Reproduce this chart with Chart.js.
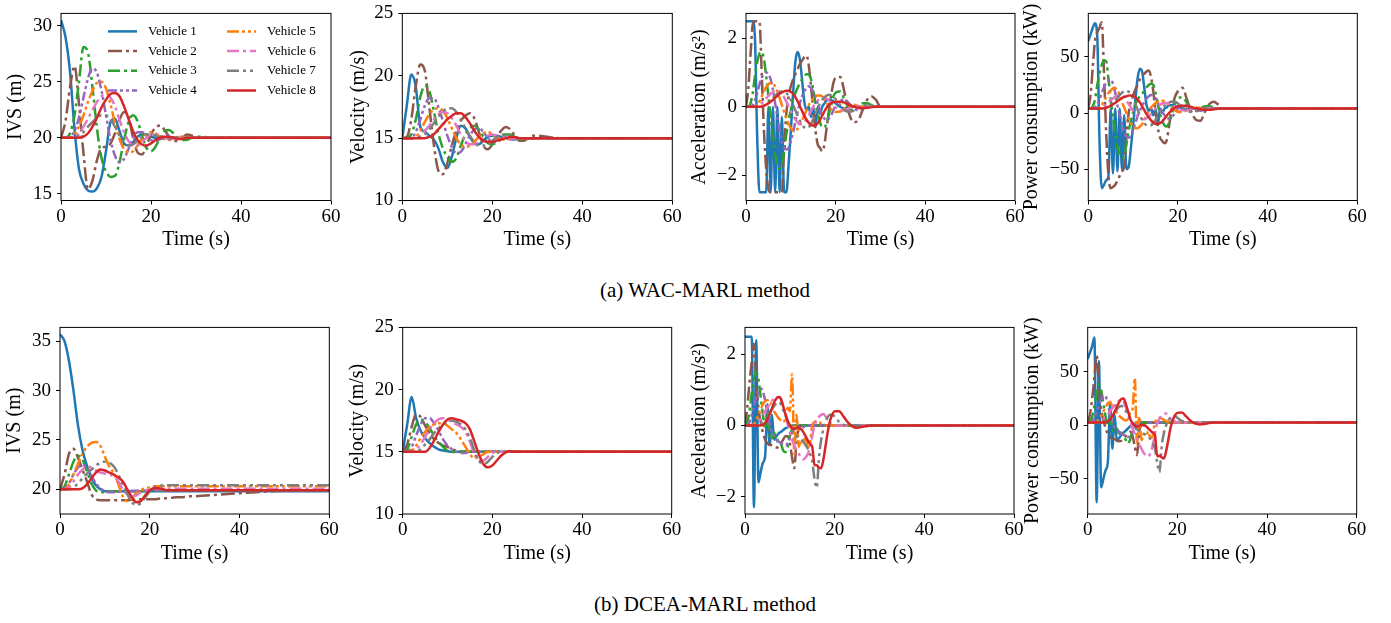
<!DOCTYPE html>
<html><head><meta charset="utf-8">
<script src="https://cdn.jsdelivr.net/npm/chart.js@4.4.1/dist/chart.umd.min.js"></script>
<style>
html,body{margin:0;padding:0;background:#fff;}
body{width:1391px;height:623px;position:relative;overflow:hidden;}
canvas{position:absolute;}
.cap{position:absolute;left:405px;width:600px;text-align:center;font-family:"Liberation Serif",serif;font-size:21px;color:#000;line-height:24px;}
</style></head><body>
<div class="cap" style="top:278px">(a) WAC-MARL method</div>
<div class="cap" style="top:592px">(b) DCEA-MARL method</div>
<script>
// ---------- time axes ----------
const T_A = [0,1,2,3,4,5,6,7,8,9,10,11,12,13,14,15,16,17,18,19,20,21,22,23,24,25,26,27,28,29,30,35,40,45,50,55,60];
const T_B = [0,0.5,1,1.5,2,2.5,3,3.5,4,4.5,5,5.5,6,6.5,7,7.5,8,8.5,9,9.5,10,10.5,11,11.5,12,12.5,13,13.5,14,14.5,15,15.5,16,16.5,17,17.5,18,18.5,19,19.5,20,21,22,23,24,25,26,27,28,29,30,40,50,60];
const X_TICKS = [0,20,40,60];
const VEHICLES = ['Vehicle 1','Vehicle 2','Vehicle 3','Vehicle 4','Vehicle 5','Vehicle 6','Vehicle 7','Vehicle 8'];

// ---------- (a) WAC-MARL ----------
const WAC_IVS = [
 [30.5,29.0,25.9,20.8,17.2,15.9,15.3,15.2,15.5,16.5,18.8,21.4,21.7,20.6,19.5,19.3,19.6,20.1,20.3,20.3,20.1,20.0,19.9,20,20,20,20,20,20,20,20,20,20,20,20,20,20],
 [20,21.5,24.5,26.4,23.0,18.6,15.4,16.2,18.0,19.1,19.2,19.5,20.4,21.6,22.3,21.9,20.0,18.7,18.5,19.3,20.3,20.9,21.1,20.7,20.1,19.7,19.7,20.0,20.3,20.2,20.0,20,20,20,20,20,20],
 [20,20,20.4,22,25,28.1,27.6,24.5,20.8,18.2,17,16.5,16.6,17.8,19.8,21.4,22,21.5,20.2,19.1,18.8,19.2,20,20.6,20.7,20.4,20,19.8,19.8,20,20.1,20,20,20,20,20,20],
 [20,20,20.1,20.6,21.8,23.6,25.3,26.2,25.8,24.2,22,19.8,18.4,17.8,18.1,19,20,20.5,20.5,20.2,19.8,19.7,19.9,20.2,20.2,20,19.9,20,20,20,20,20,20,20,20,20,20],
 [20,20,20,20.3,21,22,23.2,24.2,24.9,25,24.4,23,21.3,19.9,19,18.7,18.8,19.3,19.9,20.3,20.5,20.4,20.1,19.9,19.8,19.9,20.1,20.1,20,20,20,20,20,20,20,20,20],
 [20,20,20,20.1,20.4,21,21.7,22.5,23.2,23.7,23.9,23.6,22.8,21.6,20.5,19.7,19.3,19.3,19.6,20,20.3,20.3,20.2,20,19.9,19.9,20,20,20,20,20,20,20,20,20,20,20],
 [20,20,20,20,20.2,20.5,21,21.4,21.8,22,22,21.6,21,20.2,19.6,19.3,19.4,19.7,20.1,20.3,20.3,20.2,20,19.9,19.9,20,20,20,20,20,20,20,20,20,20,20,20],
 [20,20,20,20,20,20.1,20.4,21,21.8,22.7,23.4,23.9,24,23.7,22.8,21.7,20.6,19.8,19.4,19.3,19.5,19.8,20,20.1,20.1,20,19.9,19.9,20,20,20,20,20,20,20,20,20]
];
const WAC_VEL = [
 [15,17.6,20.1,19.1,15.9,15.5,15.2,14.9,14.2,13.1,12.6,13.5,15.0,16.0,15.8,15.1,14.6,14.5,14.8,15.1,15.2,15.2,15.1,15,14.9,14.9,15,15,15,15,15,15,15,15,15,15,15],
 [15,15.1,16.5,19.2,20.9,20.4,17.5,14.5,12.4,12.1,13,14.4,15.6,16.4,16.8,17,16.6,15.5,14.4,14.1,14.5,15.1,15.6,15.9,15.7,15.2,14.8,14.8,15,15.2,15.2,15,15,15,15,15,15],
 [15,15,15.3,16.5,18.3,19.2,18.8,17.2,15.4,14.2,13.5,13.1,13.4,14.4,15.3,15.8,16,15.7,15.1,14.6,14.5,14.7,15.1,15.3,15.3,15.1,14.9,14.9,15,15,15,15,15,15,15,15,15],
 [15,15,15,15.5,16.5,17.6,18.2,18.2,17.5,16.4,15.2,14.3,13.8,13.9,14.5,15.2,15.7,15.8,15.5,15,14.7,14.7,14.9,15.1,15.1,15,15,15,15,15,15,15,15,15,15,15,15],
 [15,15,15,15.1,15.6,16.3,16.9,17.3,17.4,17.2,16.6,15.8,15,14.5,14.3,14.4,14.7,15.1,15.4,15.5,15.3,15.1,14.9,14.9,15,15,15,15,15,15,15,15,15,15,15,15,15],
 [15,15,15,15,15.2,15.6,16,16.5,16.9,17.1,17,16.6,16,15.3,14.8,14.5,14.5,14.7,15,15.2,15.3,15.2,15.1,15,14.9,15,15,15,15,15,15,15,15,15,15,15,15],
 [15,15,15,15,15.1,15.3,15.7,16.2,16.7,17.1,17.4,17.4,17.1,16.5,15.8,15.2,14.7,14.4,14.4,14.5,14.8,15.1,15.3,15.3,15.2,15,15,15,15,15,15,15,15,15,15,15,15],
 [15,15,15,15,15,15,15.1,15.3,15.7,16.1,16.5,16.8,17,17,16.7,16.2,15.6,15.1,14.8,14.7,14.7,14.8,14.9,15,15.1,15.1,15,15,15,15,15,15,15,15,15,15,15]
];
const WAC_ACC = [
 [2.5,2.5,2.5,2.5,2.0,-0.9,-2.5,-2.5,-2.5,-2.5,0,-2.5,0,-2.5,0,-2.5,-0.3,-2.5,-2.5,-1.7,-0.7,0.4,1.3,1.6,1.4,0.8,0.15,-0.1,0,-0.3,0,-0.6,0,-0.2,0,0.1,0.2,0.2,0.2,0.15,0.1, 0,-0.05,0,0,0,0,0,0,0,0, 0,0,0],
 [0,0.5,1.5,2.4,2.5,2.5,2.5,1.0,-0.7,-1.8,-2.4,-2.5,-2.5,-2.5,-2.5,-2.5,-2.5,-1.2,-0.2,0.3,0.6,0.8,0.95,1.1,1.25,1.35,1.45,1.5,1.2,0.6,-0.1,-0.7,-1.1,-1.2,-1.3,-1.1,-0.6,-0.1,0.35,0.7,0.85, 0.87,0.4,-0.2,-0.45,-0.4,-0.1,0.2,0.3,0.2,0, 0,0,0],
 [0,0,0.1,0.4,0.9,1.3,1.55,1.6,1.4,0.9,0.3,-0.3,-0.9,-1.4,-1.7,-1.8,-1.7,-1.3,-0.8,-0.4,-0.1,0.2,0.4,0.55,0.7,0.8,0.9,0.95,0.95,0.8,0.5,0.1,-0.2,-0.45,-0.6,-0.6,-0.45,-0.2,0.05,0.3,0.42, 0.45,0.2,-0.05,-0.1,0,0.1,0.1,0.05,0,0, 0,0,0],
 [0,0,0,0.05,0.2,0.4,0.65,0.85,0.95,1.0,0.95,0.8,0.5,0.1,-0.3,-0.7,-1.0,-1.2,-1.25,-1.2,-1.0,-0.75,-0.45,-0.15,0.1,0.3,0.45,0.55,0.6,0.55,0.45,0.3,0.1,-0.1,-0.25,-0.35,-0.4,-0.35,-0.25,-0.1,0.05, 0.2,0.2,0.1,-0.05,-0.1,-0.05,0,0,0,0, 0,0,0],
 [0,0,0,0,0,0.05,0.15,0.3,0.45,0.58,0.66,0.7,0.68,0.6,0.45,0.25,0.05,-0.15,-0.35,-0.5,-0.62,-0.7,-0.7,-0.65,-0.55,-0.4,-0.25,-0.1,0.05,0.15,0.25,0.3,0.33,0.33,0.3,0.22,0.12,0.02,-0.07,-0.12,-0.15, -0.14,-0.05,0.03,0.06,0.04,0,0,0,0,0, 0,0,0],
 [0,0,0,0,0,0,0.05,0.1,0.17,0.25,0.32,0.38,0.43,0.46,0.47,0.45,0.38,0.28,0.15,0.02,-0.12,-0.25,-0.37,-0.46,-0.51,-0.5,-0.45,-0.36,-0.25,-0.12,0,0.1,0.18,0.24,0.27,0.27,0.24,0.18,0.11,0.04,-0.02, -0.1,-0.1,-0.05,0,0.03,0.02,0,0,0,0, 0,0,0],
 [0,0,0,0,0,0,0,0,0.03,0.07,0.12,0.18,0.25,0.32,0.38,0.42,0.45,0.44,0.4,0.32,0.2,0.06,-0.1,-0.26,-0.4,-0.52,-0.6,-0.63,-0.6,-0.5,-0.36,-0.2,-0.05,0.1,0.2,0.28,0.33,0.35,0.34,0.3,0.22, 0.05,-0.1,-0.15,-0.12,-0.05,0.02,0.05,0.03,0,0, 0,0,0],
 [0,0,0,0,0,0,0,0.01,0.03,0.06,0.1,0.15,0.2,0.26,0.32,0.38,0.42,0.45,0.47,0.47,0.44,0.38,0.28,0.16,0.02,-0.12,-0.26,-0.38,-0.47,-0.53,-0.55,-0.54,-0.48,-0.38,-0.26,-0.13,-0.02,0.06,0.11,0.14,0.15, 0.15,0.12,0.06,0.01,-0.03,-0.04,-0.03,-0.01,0,0, 0,0,0]
];
const WAC_PWR = [
 [64,70,76,80,68,-25,-67,-64,-60,-56,4,-54,4,-52,4,-50,-2,-50,-48,-31,-11,12,31,39.5,37,22,7,2,4,-2,4,-11,4,0,4,5,7,7,7,6,5.5, 4,3.5,4,4,4,4,4,4,4,4, 4,4,4],
 [4,16,41,65,72,76,81,36,-19,-56,-67,-66,-64,-60,-56,-52,-48,-21,0,10,16,21,25,30,33,35,37,38,32,19,1,-13,-22,-25,-27,-24,-12,2,10,16,19.5, 22.6,12,1,-6,-7,1,8,10,7.5,4, 4,4,4],
 [4,4,6,12,25,35,43,47,46,30,12,-4,-18,-30,-37,-40,-38,-28,-16,-7,1,8,12,15,17,20,23,25,26,25,18,8,-1,-7,-11,-12,-9,-3,5,10,13, 14,9,3,2,4,6,6,5,4,4, 4,4,4],
 [4,4,4,5,8,12,18,23,27,29,30,26,18,7,-2,-10,-17,-21,-22,-20,-15,-9,-3,2,6,10,13,15,16,15,13,9,5,1,-2,-4,-5,-4,-2,1,4, 7,7,5,3,2,3,4,4,4,4, 4,4,4],
 [4,4,4,4,4,5,7,11,14,18,20,22,22,20,16,10,5,0,-5,-9,-12,-13.5,-13.5,-12,-10,-6,-2,2,5,7,9,10,11,11,10.5,9,7,5,3,2,1, 1,2.5,4.5,5,4.5,4,4,4,4,4, 4,4,4],
 [4,4,4,4,4,4,5,6,8,10,11.5,13,14.5,15.5,16,15.5,14,11,8,5,1.5,-1,-3,-4.5,-5.5,-5.5,-4.5,-3,-1,1,4,6,7.5,8.5,9,9,8.5,7.5,6.5,5,4, 2.5,2.5,3,4,4,4,4,4,4,4, 4,4,4],
 [4,4,4,4,4,4,4,4,5,6,7.5,9,11,13.5,16,18,19.5,20,19,17,13,8,3,-2,-6,-9,-11,-11.5,-11,-9,-6,-3,1,4,6.5,8.5,9.5,10,10,9.5,8.5, 5,2,1,1.5,3,4.5,5,4.5,4,4, 4,4,4],
 [4,4,4,4,4,4,4,4.2,4.7,5.5,6.5,7.8,9,10.5,12,13.3,14.3,15,15.5,15.6,15.2,14,12,9.5,6,2.5,-1,-4,-6.5,-8.5,-9.6,-9.8,-9,-7.5,-5,-2.5,0,2,3.8,5,5.8, 6.5,6.3,5.3,4.2,3.3,2.8,2.9,3.3,3.8,4, 4,4,4]
];

// ---------- (b) DCEA-MARL ----------
const DCEA_IVS = [
 [35.7,35,33,30,26.5,24,22.4,21.2,20.4,20,19.8,19.8,19.8,19.8,19.8,19.8,19.8,19.8,19.8,19.8,19.8,19.8,19.8,19.8,19.8,19.8,19.8,19.8,19.8,19.8,19.8,19.8,19.8,19.8,19.8,19.8,19.8],
 [20,21.5,23.6,24.1,23.2,22.0,20.8,19.5,19,18.9,18.9,18.9,18.9,18.9,18.9,18.9,18.95,18.95,19,19,19,19.0,19.05,19.1,19.1,19.15,19.2,19.2,19.25,19.3,19.3,19.45,19.6,19.75,19.85,19.9,19.9],
 [20,20.3,21.5,22.8,23.4,23,21.8,20.6,19.9,19.7,19.7,19.8,19.8,19.8,19.8,19.8,19.8,19.8,19.8,19.8,19.85,19.85,19.85,19.85,19.85,19.85,19.85,19.85,19.85,19.85,19.85,19.85,19.85,19.85,19.85,19.85,19.85],
 [20,20.1,20.6,21.5,22.2,22.5,22.2,21.4,20.6,20.1,19.8,19.7,19.7,19.75,19.8,19.8,19.85,19.85,19.9,19.9,19.9,19.9,19.9,19.9,19.9,19.9,19.9,19.9,19.9,19.9,19.9,19.9,19.9,19.9,19.9,19.9,19.9],
 [20,20,20.5,21.5,22.6,23.6,24.3,24.7,24.8,24.4,23.3,22.3,21.6,20.5,19.3,18.8,19.1,19.6,19.9,20.1,20.2,20.3,20.3,20.3,20.3,20.3,20.3,20.3,20.3,20.3,20.3,20.3,20.3,20.3,20.3,20.3,20.3],
 [20,20,20.2,20.8,21.5,22,22.3,22.2,21.9,21.7,21.6,21.5,21.3,20.8,20,19.5,19.3,19.4,19.7,19.9,20,20.05,20.05,20.05,20.05,20.05,20.05,20.05,20.05,20.05,20.05,20.05,20.05,20.05,20.05,20.05,20.05],
 [20,20,20,20.2,20.6,21.1,21.6,22,22.4,22.7,22.8,22.7,22.3,21.5,20.5,19.5,18.7,18.4,18.6,19.2,19.8,20.2,20.35,20.4,20.4,20.4,20.4,20.4,20.4,20.4,20.4,20.4,20.4,20.4,20.4,20.4,20.4],
 [20,20,20,20,20,20.1,20.5,21.1,21.7,22,21.9,21.7,21.5,21.2,20.8,20,19.2,18.7,18.8,19.4,19.9,20.1,20.1,20,19.9,19.9,19.9,19.9,19.9,19.9,19.9,19.9,19.9,19.9,19.9,19.9,19.9]
];
const DCEA_VEL = [
 [15,17.2,19.4,17.7,16.7,16.1,15.7,15.4,15.2,15.1,15.05,15,15,15,15,15,15,15,15,15,15,15,15,15,15,15,15,15,15,15,15,15,15,15,15,15,15],
 [15,15.6,17,18,17.8,17.1,16.5,16,15.7,15.5,15.4,15.2,15.1,15,15,15,15,15,15,15,15,15,15,15,15,15,15,15,15,15,15,15,15,15,15,15,15],
 [15,15.2,16.2,17.2,17.6,17.4,16.9,16.3,15.8,15.4,15.1,15,14.95,15,15,15,15,15,15,15,15,15,15,15,15,15,15,15,15,15,15,15,15,15,15,15,15],
 [15,15,15.4,16.3,17.2,17.7,17.7,17.3,16.7,16,15.5,15.2,15,14.9,14.9,15,15,15,15,15,15,15,15,15,15,15,15,15,15,15,15,15,15,15,15,15,15],
 [15,15,15.1,15.5,16.1,16.6,17,17.2,17.3,17.3,17.1,16.8,16.5,16,15.4,14.8,14.5,14.6,14.8,15,15,15,15,15,15,15,15,15,15,15,15,15,15,15,15,15,15],
 [15,15,15,15.2,15.6,16.2,16.8,17.3,17.6,17.7,17.6,17.4,17.2,17,16.6,15.8,14.8,14.3,14.3,14.6,14.9,15,15,15,15,15,15,15,15,15,15,15,15,15,15,15,15],
 [15,15,15,15,15.2,15.6,16,16.5,16.9,17.2,17.4,17.5,17.4,17.2,16.8,16.1,15.1,14.3,14,14.2,14.6,14.9,15,15,15,15,15,15,15,15,15,15,15,15,15,15,15],
 [15,15,15,15,15,15,15.3,15.9,16.6,17.2,17.6,17.7,17.6,17.5,17.3,16.8,15.8,14.8,14,13.75,13.9,14.3,14.7,14.95,15.05,15,15,15,15,15,15,15,15,15,15,15,15]
];
const DCEA_ACC = [
 [2.5,2.5,2.5,2.5,-2.3,2.4,-1.6,-1.3,-1.05,-0.85,0.6,-0.55,0.3,-0.4,-0.3,-0.22,-0.18,-0.13,-0.08,-0.05,-0.02,0,0,0,0,0,0,0,0,0,0,0,0,0,0,0,0,0,0,0,0, 0,0,0,0,0,0,0,0,0,0, 0,0,0],
 [0,0.5,1.2,1.8,2.3,1.2,0.5,0.1,-0.2,-0.4,-0.5,-0.55,-0.55,-0.6,-0.62,-0.6,-0.5,-0.4,-0.3,-0.3,-0.5,-0.9,-1.2,-0.4,-0.1,0,0,0,0,0,0,0,0,0,0,0,0,0,0,0,0, 0,0,0,0,0,0,0,0,0,0, 0,0,0],
 [0,0.1,0.4,0.9,1.3,1.5,1.3,0.8,0.3,-0.1,0.4,-0.3,-0.4,-0.2,-0.45,-0.4,-0.5,-0.7,-0.75,-0.6,-0.3,-0.1,0,0,0,0,0,0,0,0,0,0,0,0,0,0,0,0,0,0,0, 0,0,0,0,0,0,0,0,0,0, 0,0,0],
 [0,0,0.1,0.3,0.55,0.8,0.95,1.05,0.95,0.7,0.35,0.05,-0.2,-0.3,-0.4,-0.45,-0.5,-0.52,-0.55,-0.5,-0.35,-0.2,-0.1,0,-0.05,-0.1,-0.05,0,0,0,0,0,0,0,0,0,0,0,0,0,0, 0,0,0,0,0,0,0,0,0,0, 0,0,0],
 [0,0,0,0,0.05,0.15,0.3,0.45,0.6,0.68,0.72,0.6,0.65,0.4,0.3,0.2,0.15,0.1,0.2,0.5,0.4,1.45,-0.8,0.3,-0.6,-0.4,-0.5,-0.3,-0.6,-0.5,0,0.1,0.12,0.1,0.05,0.02,0,0,0,0,0, 0,0,0,0,0,0,0,0,0,0, 0,0,0],
 [0,0,0,0,0,0.05,0.1,0.2,0.3,0.4,0.5,0.6,0.7,0.75,0.78,0.8,0.75,0.55,0.3,0.05,-0.2,-0.4,-0.55,-0.7,-0.8,-0.9,-0.95,-0.9,-0.8,-0.6,-0.3,0,0.15,0.25,0.3,0.32,0.25,0.15,0.08,0.03,0, 0,0,0,0,0,0,0,0,0,0, 0,0,0],
 [0,0,0,0,0,0,0,0.05,0.1,0.15,0.25,0.35,0.45,0.55,0.62,0.66,0.6,0.45,0.3,0.15,0,-0.15,-0.25,-0.3,-0.35,-0.4,-0.45,-0.55,-0.65,-0.8,-1.0,-1.5,-1.75,-0.9,-0.4,-0.1,0.1,0.25,0.3,0.3,0.25, 0.1,0.02,0,0,0,0,0,0,0,0, 0,0,0],
 [0,0,0,0,0,0,0,0,0.02,0.08,0.18,0.32,0.48,0.65,0.76,0.8,0.75,0.55,0.32,0.12,0,-0.08,-0.1,-0.07,-0.06,-0.1,-0.18,-0.3,-0.42,-0.52,-0.6,-1.1,-1.12,-1.18,-1.2,-0.95,-0.55,-0.15,0.15,0.32,0.4, 0.4,0.25,0.08,-0.03,-0.06,-0.04,-0.02,0,0,0, 0,0,0]
];
const DCEA_PWR = [
 [62,68,74,82,-72,60,-58,-50,-42,-34,20,-22,10,-15,-12,-9,-7,-5,-3,-1,0.5,1.5,2,2.3,2.5,2.5,2.5,2.5,2.5,2.5,2.5,2.5,2.5,2.5,2.5,2.5,2.5,2.5,2.5,2.5,2.5, 2.5,2.5,2.5,2.5,2.5,2.5,2.5,2.5,2.5,2.5, 2.5,2.5,2.5],
 [2.5,10,25,45,65,35,15,5,-3,-8,-11,-12.5,-13,-14,-15,-14.5,-12,-10,-7,-6,-10,-20,-28,-6,0,2.5,2.5,2.5,2.5,2.5,2.5,2.5,2.5,2.5,2.5,2.5,2.5,2.5,2.5,2.5,2.5, 2.5,2.5,2.5,2.5,2.5,2.5,2.5,2.5,2.5,2.5, 2.5,2.5,2.5],
 [2.5,4,8,18,30,38,33,20,8,0,10,-4,-6,-3,-8,-7,-9,-14,-17,-13,-5,-1,2,2.5,2.5,2.5,2.5,2.5,2.5,2.5,2.5,2.5,2.5,2.5,2.5,2.5,2.5,2.5,2.5,2.5,2.5, 2.5,2.5,2.5,2.5,2.5,2.5,2.5,2.5,2.5,2.5, 2.5,2.5,2.5],
 [2.5,2.5,4,7,12,18,24,28,27,20,11,3,-2,-4,-6,-8,-9,-10,-11,-10,-7,-3,-0.5,2.5,1,-0.5,1,2.5,2.5,2.5,2.5,2.5,2.5,2.5,2.5,2.5,2.5,2.5,2.5,2.5,2.5, 2.5,2.5,2.5,2.5,2.5,2.5,2.5,2.5,2.5,2.5, 2.5,2.5,2.5],
 [2.5,2.5,2.5,2.5,3.5,6,9,13,17,20,22,18,20,12,9,7,5.5,4.5,6,12,15,44,-18,8,-14,-8,-10,-6,-12,-10,3,5,7,6.5,5,4,3,2.5,2.5,2.5,2.5, 2.5,2.5,2.5,2.5,2.5,2.5,2.5,2.5,2.5,2.5, 2.5,2.5,2.5],
 [2.5,2.5,2.5,2.5,2.5,3.5,4.5,6,8,10,13,16,19,21,23,24,22,17,10,3,-3,-8,-13,-18,-22,-26,-28,-29,-26,-19,-8,2,6,9,10.5,11,9,6,4.5,3.5,2.5, 2.5,2.5,2.5,2.5,2.5,2.5,2.5,2.5,2.5,2.5, 2.5,2.5,2.5],
 [2.5,2.5,2.5,2.5,2.5,2.5,2.5,3.5,5,6,8,10,12.5,15,17,18,17,13.5,9.5,6,2.5,-1,-4,-5.5,-7,-8,-9,-11,-13,-17,-22,-35,-44,-20,-7,0,4.5,7.5,8.5,8.5,7, 4,2.8,2.5,2.5,2.5,2.5,2.5,2.5,2.5,2.5, 2.5,2.5,2.5],
 [2.5,2.5,2.5,2.5,2.5,2.5,2.5,2.5,2.8,3.8,5.5,8.5,12.5,17,21.5,24.5,25,20,13,6,2,0,-1.5,-0.5,0.5,0.5,-1,-3,-5,-7,-9,-29,-28.5,-30,-31,-24,-13,-2,5,9.5,11.5, 12,8,4,1.5,0.8,1.2,2,2.5,2.5,2.5, 2.5,2.5,2.5]
];

// ---------- tick labels ----------
const IVS_TICKS_A = [15,20,25,30];
const IVS_TICKS_B = [20,25,30,35];
const VEL_TICKS = [10,15,20,25];
const ACC_TICKS = [-2,0,2];
const PWR_TICKS = [-50,0,50];

// ---------- styles ----------
const FONT = '"Liberation Serif", "Times New Roman", serif';
const COLORS = ['#1f77b4','#8c564b','#2ca02c','#9467bd','#ff7f0e','#e377c2','#7f7f7f','#d62728'];
const DASHES = [[],[14,4,3,4],[12,4,3,4],[9,3,3,3,3,3],[12,3,3,3,3,3],[12,4,3,4],[12,4,3,4,3,4],[]];
const LINE_W = 2.5;

const PANELS = [
  {data:WAC_IVS, t:T_A, yMin:14.4, yMax:31.1, ticks:IVS_TICKS_A, title:'IVS (m)', plot:[61,11,331,200.5], titleX:16.7, legend:true},
  {data:WAC_VEL, t:T_A, yMin:10, yMax:25, ticks:VEL_TICKS, title:'Velocity (m/s)', plot:[402.3,11,672.3,200.5], titleX:359},
  {data:WAC_ACC, t:T_B, yMin:-2.74, yMax:2.73, ticks:ACC_TICKS, title:'Acceleration (m/s\u00B2)', plot:[746,11,1015,200.5], titleX:700.8},
  {data:WAC_PWR, t:T_B, yMin:-78, yMax:88.8, ticks:PWR_TICKS, title:'Power consumption (kW)', plot:[1088.3,11,1357.3,200.5], titleX:1032.7},
  {data:DCEA_IVS, t:T_A, yMin:17.5, yMax:36.4, ticks:IVS_TICKS_B, title:'IVS (m)', plot:[60,325,329.3,514], titleX:15.8},
  {data:DCEA_VEL, t:T_A, yMin:10, yMax:25, ticks:VEL_TICKS, title:'Velocity (m/s)', plot:[402.7,325,671.7,514], titleX:358.3},
  {data:DCEA_ACC, t:T_B, yMin:-2.49, yMax:2.76, ticks:ACC_TICKS, title:'Acceleration (m/s\u00B2)', plot:[745,325,1014,514], titleX:700.5},
  {data:DCEA_PWR, t:T_B, yMin:-83, yMax:91.5, ticks:PWR_TICKS, title:'Power consumption (kW)', plot:[1087.7,325,1356.7,514], titleX:1033}
];

const fmt = v => (v < 0 ? '\u2212' : '') + Math.abs(v);

const framePlugin = {
  id:'frame',
  afterDraw(chart){
    const {ctx, chartArea:a} = chart;
    ctx.save(); ctx.strokeStyle = '#000'; ctx.lineWidth = 1;
    ctx.strokeRect(a.left, a.top, a.right - a.left, a.bottom - a.top);
    ctx.restore();
  }
};
const legendPlugin = {
  id:'vleg',
  afterDraw(chart){
    const {ctx, chartArea:a} = chart;
    ctx.save();
    ctx.font = '13px ' + FONT; ctx.fillStyle = '#000';
    ctx.textBaseline = 'middle'; ctx.textAlign = 'left';
    chart.data.datasets.forEach((ds, i) => {
      const col = Math.floor(i / 4), row = i % 4;
      const x0 = a.left + (col ? 166 : 47), y = a.top + 18 + row * 19.7;
      ctx.strokeStyle = ds.borderColor; ctx.lineWidth = ds.borderWidth;
      ctx.setLineDash(ds.borderDash); ctx.beginPath();
      ctx.moveTo(x0, y); ctx.lineTo(x0 + 29, y); ctx.stroke();
      ctx.setLineDash([]);
      ctx.fillText(ds.label, x0 + 40, y);
    });
    ctx.restore();
  }
};

PANELS.forEach((p, k) => {
  const [L, T, R, B] = p.plot;
  const left = Math.floor(p.titleX - 12);
  const top = T - 14;
  const right = Math.ceil(R + 16);
  const bottom = Math.ceil(B + (k < 4 ? 51 : 52));
  const Lw = L - left, Tp = T - top, Rp = right - R, Bh = bottom - B;
  const cv = document.createElement('canvas');
  cv.width = right - left; cv.height = bottom - top;
  cv.style.left = left + 'px'; cv.style.top = top + 'px';
  cv.style.width = (right - left) + 'px'; cv.style.height = (bottom - top) + 'px';
  document.body.appendChild(cv);
  const gridOpt = {display:true, drawOnChartArea:false, drawTicks:true, tickLength:4, tickColor:'#000', tickWidth:1, color:'#000'};
  new Chart(cv, {
    type:'line',
    data:{
      datasets: p.data.map((ys, i) => ({
        label: VEHICLES[i],
        data: p.t.map((x, j) => ({x:x, y:ys[j]})),
        borderColor: COLORS[i], backgroundColor: COLORS[i],
        borderDash: DASHES[i], borderWidth: LINE_W, borderCapStyle:'butt',
        pointRadius:0, fill:false, cubicInterpolationMode:'monotone',
        order: 7 - i
      }))
    },
    options:{
      responsive:false, animation:false, events:[],
      layout:{padding:{top:Tp, right:Rp, left:0, bottom:0}},
      plugins:{legend:{display:false}, tooltip:{enabled:false}},
      scales:{
        x:{type:'linear', min:0, max:60,
           afterBuildTicks: s => { s.ticks = X_TICKS.map(v => ({value:v})); },
           afterFit: s => { s.height = Bh; },
           grid:gridOpt, border:{display:false},
           ticks:{color:'#000', font:{family:FONT, size:19}, padding:1, maxRotation:0, autoSkip:false, callback:fmt},
           title:{display:true, text:'Time (s)', color:'#000', font:{family:FONT, size:20}, padding:0}},
        y:{type:'linear', min:p.yMin, max:p.yMax,
           afterBuildTicks: s => { s.ticks = p.ticks.map(v => ({value:v})); },
           afterFit: s => { s.width = Lw; },
           grid:gridOpt, border:{display:false},
           ticks:{color:'#000', font:{family:FONT, size:19}, padding:5, autoSkip:false, callback:fmt},
           title:{display:true, text:p.title, color:'#000', font:{family:FONT, size:20}, padding:0}}
      }
    },
    plugins: p.legend ? [framePlugin, legendPlugin] : [framePlugin]
  });
});
</script>
</body></html>
